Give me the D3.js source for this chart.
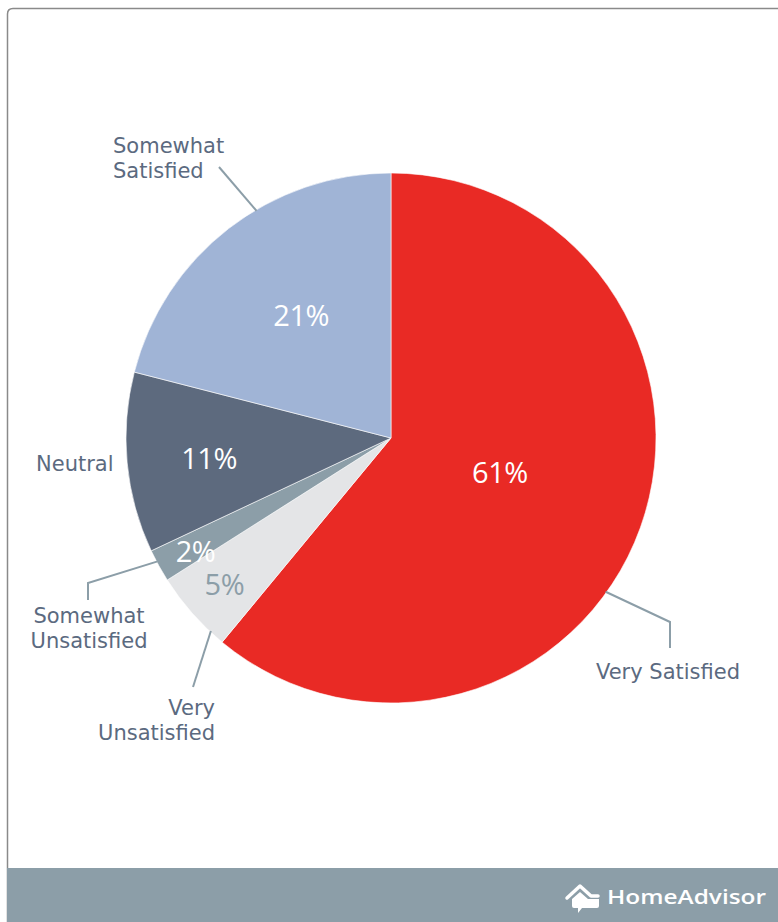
<!DOCTYPE html>
<html>
<head>
<meta charset="utf-8">
<script src="https://cdn.jsdelivr.net/npm/d3@7"></script>
<style>
  html, body { margin: 0; padding: 0; background: #fff; }
  svg { display: block; }
</style>
</head>
<body>
<svg id="chart" width="778" height="922"></svg>
<script>
// Survey answers, clockwise from 12 o'clock
const categories = ["Very Satisfied", "Very Unsatisfied", "Somewhat Unsatisfied", "Neutral", "Somewhat Satisfied"];
const values = [61, 5, 2, 11, 21];
const valueLabels = ["61%", "5%", "2%", "11%", "21%"];
const sliceColors = ["#e92a25", "#e4e5e7", "#8c9ea8", "#5d6a7e", "#a0b4d6"];
const valueTextColors = ["#ffffff", "#8c9ea8", "#ffffff", "#ffffff", "#ffffff"];

const W = 778, H = 922;
const cx = 391, cy = 438, R = 265;
const labelFont = "'DejaVu Sans', Verdana, sans-serif";
const valueFont = "'Open Sans', Lato, sans-serif";

const svg = d3.select("#chart");

// card outline
svg.append("path")
  .attr("d", "M7.5,922 L7.5,14 Q7.5,8.5 13,8.5 L778,8.5")
  .attr("fill", "none")
  .attr("stroke", "#8a8a8a")
  .attr("stroke-width", 1.5);

// footer band
svg.append("rect")
  .attr("x", 7).attr("y", 868)
  .attr("width", W - 7).attr("height", H - 868)
  .attr("fill", "#8c9ea8");

const pie = d3.pie().sort(null).value(d => d)
  .startAngle(0).endAngle(2 * Math.PI);
const arcs = pie(values);
const arc = d3.arc().innerRadius(0).outerRadius(R);

const g = svg.append("g").attr("transform", `translate(${cx},${cy})`);

g.selectAll("path.slice")
  .data(arcs)
  .join("path")
  .attr("class", "slice")
  .attr("d", arc)
  .attr("fill", (d, i) => sliceColors[i])
  .attr("stroke", "#ffffff")
  .attr("stroke-width", 0.6);

const pt = (a, r) => [r * Math.sin(a), -r * Math.cos(a)];
const angleAt = (d, t) => d.startAngle + (d.endAngle - d.startAngle) * t;

// value labels inside slices: fraction of the slice sweep, fraction of R
const valuePlace = [[0.49, 0.431], [0.506, 0.837], [0.32, 0.853], [0.47, 0.691], [0.519, 0.572]];

g.selectAll("text.val")
  .data(arcs)
  .join("text")
  .attr("class", "val")
  .attr("transform", (d, i) => {
    const [t, rf] = valuePlace[i];
    const [x, y] = pt(angleAt(d, t), R * rf);
    return `translate(${x},${y})`;
  })
  .attr("text-anchor", "middle")
  .attr("dy", "0.36em")
  .attr("font-family", valueFont)
  .attr("font-weight", 400)
  .attr("font-size", 29)
  .attr("letter-spacing", -0.5)
  .attr("fill", (d, i) => valueTextColors[i])
  .text((d, i) => valueLabels[i]);

// category labels with leader lines
// t: where along the slice's sweep the leader leaves the rim
// elbow / end: leader bend and end, relative to the centre
const callouts = [
  { i: 0, t: 0.572, elbow: [279, 184], end: [279, 210], anchor: "middle", tx: 277, ty: 241, lines: ["Very Satisfied"] },
  { i: 1, t: 0.19, elbow: null, end: [-198, 249], anchor: "end", tx: -176, ty: 277, lines: ["Very", "Unsatisfied"] },
  { i: 2, t: 0.63, elbow: [-303, 145], end: [-303, 162], anchor: "middle", tx: -302, ty: 185, lines: ["Somewhat", "Unsatisfied"] },
  { i: 3, t: 0.5, elbow: null, end: null, anchor: "start", tx: -355, ty: 33, lines: ["Neutral"] },
  { i: 4, t: 0.595, elbow: null, end: [-172, -271], anchor: "start", tx: -278, ty: -285, lines: ["Somewhat", "Satisfied"] }
];

callouts.forEach(c => {
  const d = arcs[c.i];
  if (c.end) {
    const pts = [pt(angleAt(d, c.t), R - 1)];
    if (c.elbow) pts.push(c.elbow);
    pts.push(c.end);
    g.append("path")
      .attr("d", d3.line()(pts))
      .attr("fill", "none")
      .attr("stroke", "#8c9ea8")
      .attr("stroke-width", 2);
  }
  c.lines.forEach((ln, k) => {
    g.append("text")
      .attr("x", c.tx).attr("y", c.ty + k * 25)
      .attr("text-anchor", c.anchor)
      .attr("font-family", labelFont)
      .attr("font-size", 21)
      .attr("fill", "#5b6a80")
      .text(ln);
  });
});

// footer brand mark
const brand = svg.append("g").attr("transform", "translate(565,884)");
brand.append("path")
  .attr("d", "M2,14 L15,2 L26,12 L33,12")
  .attr("fill", "none")
  .attr("stroke", "#ffffff")
  .attr("stroke-width", 3.5)
  .attr("stroke-linejoin", "round")
  .attr("stroke-linecap", "round");
brand.append("path")
  .attr("d", "M7,15 L15,8 L23,15 L34,15 L34,22 Q34,24 32,24 L17,24 L13,29 L13,24 L9,24 Q7,24 7,22 Z")
  .attr("fill", "#ffffff");
svg.append("text")
  .attr("x", 607).attr("y", 904)
  .attr("font-family", valueFont)
  .attr("font-size", 20)
  .attr("font-weight", 600)
  .attr("fill", "#ffffff")
  .attr("textLength", 159)
  .attr("lengthAdjust", "spacingAndGlyphs")
  .text("HomeAdvisor");
</script>
</body>
</html>
